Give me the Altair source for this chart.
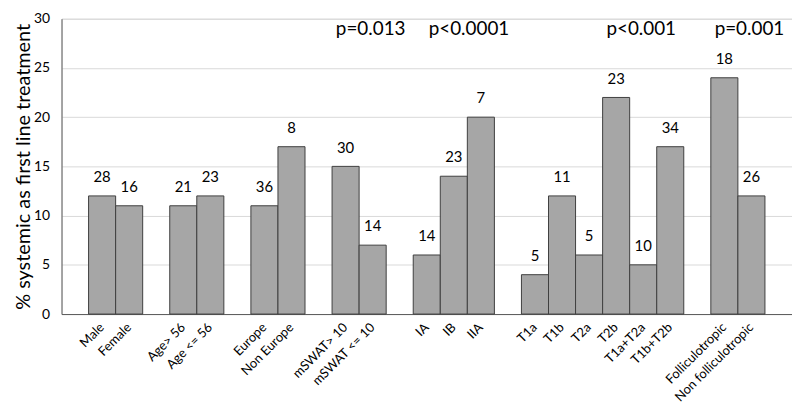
import altair as alt
import pandas as pd

categories = ["Male", "Female", "Age> 56", "Age <= 56", "Europe", "Non Europe",
              "mSWAT> 10", "mSWAT <= 10", "IA", "IB", "IIA",
              "T1a", "T1b", "T2a", "T2b", "T1a+T2a", "T1b+T2b",
              "Folliculotropic", "Non folliculotropic"]
groups = [0, 0, 1, 1, 2, 2, 3, 3, 4, 4, 4, 5, 5, 5, 5, 5, 5, 6, 6]
values = [12, 11, 11, 12, 11, 17, 15, 7, 6, 14, 20, 4, 12, 6, 22, 5, 17, 24, 12]
counts = [28, 16, 21, 23, 36, 8, 30, 14, 14, 23, 7, 5, 11, 5, 23, 10, 34, 18, 26]
p_labels = ["p=0.013", "p<0.0001", "p<0.001", "p=0.001"]
p_anchor = ["mSWAT <= 10", "IIA", "T1a+T2a", "Non folliculotropic"]

FONT = "Lato"

# category order with blank spacer slots between groups
order = ["_0"]
prev = groups[0]
k = 1
for c, g in zip(categories, groups):
    if g != prev:
        order.append(f"_{k}")
        k += 1
        prev = g
    order.append(c)
order.append(f"_{k}")

df = pd.DataFrame({"category": categories, "value": values, "n": counts})
pdf = pd.DataFrame({"category": p_anchor, "label": p_labels})

x_enc = alt.X(
    "category:N",
    sort=order,
    scale=alt.Scale(domain=order, paddingInner=0, paddingOuter=0),
    axis=alt.Axis(
        title=None,
        labelAngle=-45,
        labelAlign="right",
        labelBaseline="middle",
        labelPadding=11,
        labelFontSize=13,
        labelFont=FONT,
        labelColor="#000000",
        labelExpr="indexof(datum.label, '_') == 0 ? '' : datum.label",
        ticks=False,
        domainColor="#595959",
        domainWidth=1,
        labelOverlap=False,
    ),
)

y_enc = alt.Y(
    "value:Q",
    scale=alt.Scale(domain=[0, 30], nice=False),
    axis=alt.Axis(
        title="% systemic as first line treatment",
        titleFont=FONT,
        titleFontSize=20,
        titleFontWeight="normal",
        titleColor="#000000",
        titleAngle=-90,
        titleAlign="center",
        titleBaseline="alphabetic",
        titleX=-32,
        titleY=149,
        values=[0, 5, 10, 15, 20, 25, 30],
        labelFont=FONT,
        labelFontSize=14,
        labelColor="#000000",
        labelPadding=12,
        ticks=False,
        grid=True,
        gridColor="#d9d9d9",
        gridWidth=1,
        domainColor="#595959",
        domainWidth=1,
    ),
)

bars = alt.Chart(df).mark_bar(
    color="#a6a6a6", stroke="#3f3f3f", strokeWidth=1
).encode(x=x_enc, y=y_enc)

nums = alt.Chart(df).mark_text(
    font=FONT, fontSize=15, color="#000000", baseline="middle", dy=-19
).encode(x=alt.X("category:N", sort=order), y="value:Q", text="n:Q")

p_main = alt.Chart(pdf).transform_filter(
    "datum.label != 'p<0.0001'"
).mark_text(
    font=FONT, fontSize=19, color="#000000", baseline="middle", dx=-2
).encode(x=alt.X("category:N", sort=order), y=alt.value(10), text="label:N")

p_ia = alt.Chart(pdf).transform_filter(
    "datum.label == 'p<0.0001'"
).mark_text(
    font=FONT, fontSize=19, color="#000000", baseline="middle", dx=-12
).encode(x=alt.X("category:N", sort=order), y=alt.value(10), text="label:N")

chart = alt.layer(bars, nums, p_main, p_ia).properties(
    width=737,
    height=298,
    padding={"left": 54, "top": 9, "right": 0, "bottom": 96},
    autosize=alt.AutoSizeParams(type="none"),
).configure_view(stroke=None).configure(background="white")

chart.save("out.html", embed_options={"renderer": "svg", "actions": False})
